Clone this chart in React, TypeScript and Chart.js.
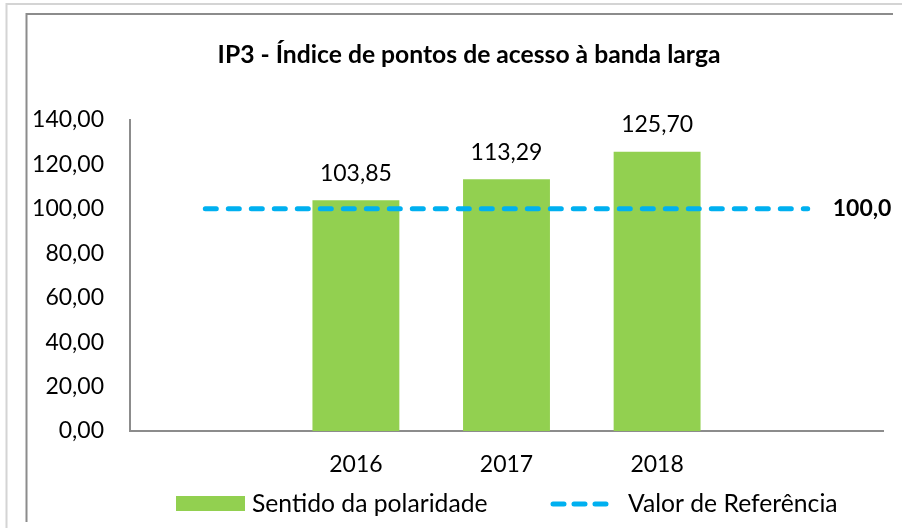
import React, { useEffect, useRef } from 'react';
import { Chart, registerables } from 'chart.js';

Chart.register(...registerables);

const categories = ['', '2016', '2017', '2018', ''];
const polarityValues = [null, 103.85, 113.29, 125.7, null];
const referenceValues = [100, 100, 100, 100, 100];
const yMin = 0;
const yMax = 140;
const yStep = 20;
const titleText = 'IP3 - Índice de pontos de acesso à banda larga';
const barSeriesName = 'Sentido da polaridade';
const lineSeriesName = 'Valor de Referência';

const FONT = "Lato, 'Noto Sans', sans-serif";
const GREEN = '#92D050';
const BLUE = '#00B0F0';

const fmt = (v: number) => v.toFixed(2).replace('.', ',');

const decorPlugin = {
  id: 'decor',
  beforeDraw(chart: any) {
    const ctx = chart.ctx;
    ctx.save();
    ctx.fillStyle = '#ffffff';
    ctx.fillRect(0, 0, chart.width, chart.height);
    // outer light frame
    ctx.strokeStyle = '#d4d4d4';
    ctx.lineWidth = 2;
    ctx.beginPath();
    ctx.moveTo(902, 4);
    ctx.lineTo(6.5, 4);
    ctx.lineTo(6.5, 528);
    ctx.stroke();
    // inner chart frame
    ctx.strokeStyle = '#8c8c8c';
    ctx.lineWidth = 2;
    ctx.beginPath();
    ctx.moveTo(893, 14);
    ctx.lineTo(26.5, 14);
    ctx.lineTo(26.5, 522);
    ctx.stroke();
    ctx.restore();
  },
  afterDatasetsDraw(chart: any) {
    const ctx = chart.ctx;
    ctx.save();
    // title
    ctx.fillStyle = '#000000';
    ctx.font = `bold 24.7px ${FONT}`;
    ctx.textAlign = 'center';
    ctx.textBaseline = 'middle';
    ctx.fillText(titleText, 469, 55);

    // bar value labels
    const barMeta = chart.getDatasetMeta(1);
    ctx.font = `23px ${FONT}`;
    barMeta.data.forEach((el: any, i: number) => {
      const v = polarityValues[i];
      if (v == null) return;
      ctx.fillText(fmt(v), el.x, el.y - 27);
    });

    // reference value label (clipped at frame edge)
    const lineMeta = chart.getDatasetMeta(0);
    const last = lineMeta.data[lineMeta.data.length - 1];
    if (last) {
      ctx.save();
      ctx.beginPath();
      ctx.rect(0, 0, 892, chart.height);
      ctx.clip();
      ctx.font = `bold 23px ${FONT}`;
      ctx.textAlign = 'left';
      ctx.fillText(fmt(referenceValues[referenceValues.length - 1]), last.x + 25, last.y);
      ctx.restore();
    }

    // legend
    const ly = 504;
    ctx.fillStyle = GREEN;
    ctx.fillRect(176, ly - 8, 69, 15);
    ctx.fillStyle = '#000000';
    ctx.font = `24.7px ${FONT}`;
    ctx.textAlign = 'left';
    ctx.fillText(barSeriesName, 252, ly);

    ctx.strokeStyle = BLUE;
    ctx.lineWidth = 5;
    ctx.lineCap = 'round';
    ctx.setLineDash([11, 10]);
    ctx.beginPath();
    ctx.moveTo(553, ly);
    ctx.lineTo(610, ly);
    ctx.stroke();
    ctx.setLineDash([]);
    ctx.fillText(lineSeriesName, 628, ly);
    ctx.restore();
  },
};

export default function App() {
  const canvasRef = useRef<HTMLCanvasElement | null>(null);

  useEffect(() => {
    if (!canvasRef.current) return;
    const chart = new Chart(canvasRef.current, {
      type: 'bar',
      data: {
        labels: categories,
        datasets: [
          {
            type: 'line',
            label: lineSeriesName,
            data: referenceValues,
            borderColor: BLUE,
            backgroundColor: BLUE,
            borderWidth: 5,
            borderDash: [11, 12],
            borderCapStyle: 'round',
            pointRadius: 0,
            fill: false,
            order: 0,
          } as any,
          {
            type: 'bar',
            label: barSeriesName,
            data: polarityValues,
            backgroundColor: GREEN,
            borderWidth: 0,
            barPercentage: 0.577,
            categoryPercentage: 1,
            order: 1,
          } as any,
        ],
      },
      options: {
        responsive: false,
        animation: false,
        devicePixelRatio: 1,
        layout: { padding: { top: 120, left: 0, right: 19, bottom: 37 } },
        plugins: {
          legend: { display: false },
          title: { display: false },
          tooltip: { enabled: false },
        },
        scales: {
          x: {
            grid: { display: false, drawTicks: false },
            border: { display: true, color: '#8c8c8c', width: 2 },
            ticks: {
              color: '#000000',
              font: { family: FONT, size: 23 },
              padding: 20,
              maxRotation: 0,
              autoSkip: false,
            },
            afterFit: (scale: any) => {
              scale.height = 60;
            },
          },
          y: {
            min: yMin,
            max: yMax,
            grid: { display: false, drawTicks: false },
            border: { display: true, color: '#8c8c8c', width: 2 },
            ticks: {
              stepSize: yStep,
              color: '#000000',
              font: { family: FONT, size: 23 },
              padding: 26,
              callback: (v: any) => fmt(Number(v)),
            },
            afterFit: (scale: any) => {
              scale.width = 130;
            },
          },
        },
      },
      plugins: [decorPlugin],
    });
    return () => chart.destroy();
  }, []);

  return (
    <div style={{ position: 'absolute', left: 0, top: 0, width: 902, height: 528 }}>
      <canvas ref={canvasRef} width={902} height={528} style={{ display: 'block' }} />
    </div>
  );
}
